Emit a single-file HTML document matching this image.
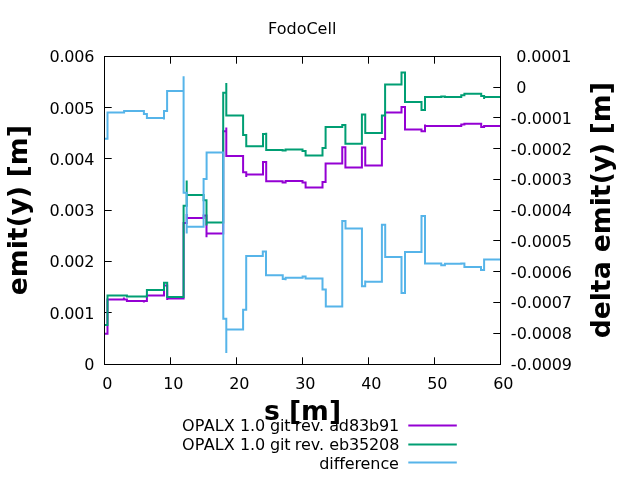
<!DOCTYPE html>
<html lang="en">
<head>
<meta charset="utf-8">
<title>FodoCell</title>
<style>
html,body{margin:0;padding:0;background:#fff;}
body{width:640px;height:480px;overflow:hidden;}
svg{display:block;will-change:transform;}
svg text{font-family:"DejaVu Sans","Liberation Sans",sans-serif;font-size:16px;fill:#000;}
svg text.lg{letter-spacing:-0.096px;}
svg text.n{letter-spacing:-0.18px;}
svg text.b{font-weight:bold;font-size:26.667px;}
</style>
</head>
<body>
<svg width="640" height="480" viewBox="0 0 640 480">
<text x="302.2" y="34" text-anchor="middle">FodoCell</text>
<path fill="none" stroke="#000" stroke-width="1" d="M104.50,364.5 v-7.2 M104.50,56.5 v7.2 M170.50,364.5 v-7.2 M170.50,56.5 v7.2 M236.50,364.5 v-7.2 M236.50,56.5 v7.2 M302.50,364.5 v-7.2 M302.50,56.5 v7.2 M368.50,364.5 v-7.2 M368.50,56.5 v7.2 M434.50,364.5 v-7.2 M434.50,56.5 v7.2 M500.50,364.5 v-7.2 M500.50,56.5 v7.2 M104.5,364.50 h7.2 M104.5,312.50 h7.2 M104.5,261.50 h7.2 M104.5,210.50 h7.2 M104.5,158.50 h7.2 M104.5,107.50 h7.2 M104.5,56.50 h7.2 M500.5,56.50 h-7.2 M500.5,87.50 h-7.2 M500.5,117.50 h-7.2 M500.5,148.50 h-7.2 M500.5,179.50 h-7.2 M500.5,210.50 h-7.2 M500.5,240.50 h-7.2 M500.5,271.50 h-7.2 M500.5,302.50 h-7.2 M500.5,333.50 h-7.2 M500.5,364.50 h-7.2"/>
<g fill="none" stroke-width="2" stroke-linejoin="miter" stroke-linecap="butt">
<path stroke="#9400d3" d="M104.5,333.75 H107.5 V299.6 H123.9 V297.5 V299.6 H126.9 V300.9 H143.9 V302.5 V300.9 H146.9 V295.6 H164 V285.6 H167.2 V300 V298.4 H183.6 V222.9 H186.7 V214 V218.1 H203.6 V215.4 H206.5 V237.3 V233.5 H223.2 V131.25 H226.3 V127.6 V155.9 H243.1 V172.25 H246.25 V177.1 V174.4 H263 V161.9 H266.2 V181.25 H282.6 V182.5 H285.6 V181 H302.5 V182.5 H305.6 V187.5 H322.5 V181.9 H325.6 V163.6 H342.25 V147.25 H345.4 V167.6 H361.9 V147.5 H365.25 V165.6 H381.9 V139.1 H385.1 V112.6 H401.5 V106.9 H405 V129.4 H421.5 V131.25 H425 V124.4 V126.1 H461.25 V124.4 H464.4 V123.75 H481.2 V126.9 H484.1 V125.9 H500.5"/>
<path stroke="#009e73" d="M104.5,325 H107.5 V295.6 H126.9 V296.6 H146.9 V290 H164 V282.75 H167.2 V296.9 H183.6 V205.7 H186.7 V180.4 V194.9 H203.6 V200.3 H206.5 V225.5 V222.6 H223.2 V92.75 H226.3 V83.1 V115.5 H243.1 V135 H246.25 V146.2 H263 V134.1 H266.2 V132.8 V150 H282.6 V150.6 H285.6 V149.5 H302.5 V151 H305.6 V155.6 H322.5 V147.9 H325.6 V127 H342.25 V125 H345.4 V143.75 H361.9 V114.6 H365.25 V133 H381.9 V115.6 H385.1 V84.4 H401.5 V72.5 H405 V101.9 H421.5 V110 H425 V96.9 H441.25 V96.4 H444.9 V96.9 H461.25 V95.25 H464.4 V93.8 H481.2 V96 H484.1 V99 V96.9 H500.5"/>
<path stroke="#56b4e9" d="M104.5,138.75 H107.5 V112.5 H124.1 V113.4 V111.05 H143.9 V110 V114 H146.9 V117.9 H164 V119.4 V111 H167.1 V90.95 H183.6 V76.25 V192.7 H186.7 V233.4 V226.8 H203.6 V178.9 H206.6 V152.5 H223.3 V318.75 H226.3 V353.1 V329.4 H243.1 V309.75 H246.2 V255.9 H262.8 V250.6 V251.5 H266 V275.25 H282.75 V279 H285.6 V280.25 V277.75 H302.6 V276.6 H305.6 V278.4 H322.5 V289.4 H325.8 V306.6 H342.25 V221 H345.5 V228.4 H361.95 V286.25 H365.2 V280.6 V281.8 H381.9 V224.75 H385.2 V258.1 V256.9 H401.5 V293.1 H405 V251.9 H421.5 V216 H425 V263.6 H441.25 V265.3 H444.9 V263.7 H461.25 V263.5 H464.4 V266.9 H481 V270 H484.1 V259.4 H500.5"/>
</g>
<rect fill="none" stroke="#000" stroke-width="1" x="104.5" y="56.5" width="396.0" height="308.0"/>
<text x="94.3" y="370" text-anchor="end" class="n">0</text>
<text x="94.3" y="319" text-anchor="end" class="n">0.001</text>
<text x="94.3" y="267" text-anchor="end" class="n">0.002</text>
<text x="94.3" y="216" text-anchor="end" class="n">0.003</text>
<text x="94.3" y="165" text-anchor="end" class="n">0.004</text>
<text x="94.3" y="114" text-anchor="end" class="n">0.005</text>
<text x="94.3" y="62" text-anchor="end" class="n">0.006</text>
<text x="516.35" y="62" class="n">0.0001</text>
<text x="516.35" y="93" class="n">0</text>
<text x="510.8" y="124" class="n"><tspan letter-spacing="0.23">-</tspan>0.0001</text>
<text x="510.8" y="155" class="n"><tspan letter-spacing="0.23">-</tspan>0.0002</text>
<text x="510.8" y="185" class="n"><tspan letter-spacing="0.23">-</tspan>0.0003</text>
<text x="510.8" y="216" class="n"><tspan letter-spacing="0.23">-</tspan>0.0004</text>
<text x="510.8" y="247" class="n"><tspan letter-spacing="0.23">-</tspan>0.0005</text>
<text x="510.8" y="278" class="n"><tspan letter-spacing="0.23">-</tspan>0.0006</text>
<text x="510.8" y="308" class="n"><tspan letter-spacing="0.23">-</tspan>0.0007</text>
<text x="510.8" y="339" class="n"><tspan letter-spacing="0.23">-</tspan>0.0008</text>
<text x="510.8" y="370" class="n"><tspan letter-spacing="0.23">-</tspan>0.0009</text>
<text x="107.30" y="389" text-anchor="middle" class="n">0</text>
<text x="173.30" y="389" text-anchor="middle" class="n">10</text>
<text x="239.30" y="389" text-anchor="middle" class="n">20</text>
<text x="305.30" y="389" text-anchor="middle" class="n">30</text>
<text x="371.30" y="389" text-anchor="middle" class="n">40</text>
<text x="437.30" y="389" text-anchor="middle" class="n">50</text>
<text x="503.30" y="389" text-anchor="middle" class="n">60</text>
<text class="b" transform="translate(26.5,295.2) rotate(-90)" x="0 18 46 55 68 80 97 109 118 130 158">emit(y) [m]</text>
<text class="b" transform="translate(609.5,338.3) rotate(-90)" x="0 19 37 46 59 77 86 104 132 141 154 166 183 195 204 216 244">delta emit(y) [m]</text>
<text class="b" x="264 280 289 301 329" y="419.5">s [m]</text>
<text y="431"><tspan x="182.1" letter-spacing="0.16">OPALX </tspan><tspan x="239.95" letter-spacing="-0.15">1.0 </tspan><tspan x="270.1" letter-spacing="-0.28">git </tspan><tspan x="294.8">rev. </tspan><tspan x="329.2" letter-spacing="-0.125">ad83b91</tspan></text>
<text y="450"><tspan x="182.1" letter-spacing="0.16">OPALX </tspan><tspan x="239.95" letter-spacing="-0.15">1.0 </tspan><tspan x="270.1" letter-spacing="-0.28">git </tspan><tspan x="294.8">rev. </tspan><tspan x="329.2" letter-spacing="-0.125">eb35208</tspan></text>
<text x="319.25" y="469" letter-spacing="-0.096">difference</text>
<g fill="none" stroke-width="2">
<path stroke="#9400d3" d="M408.3,425.5 H456.8"/>
<path stroke="#009e73" d="M408.3,444.5 H456.8"/>
<path stroke="#56b4e9" d="M408.3,462.5 H456.8"/>
</g>
</svg>
</body>
</html>
